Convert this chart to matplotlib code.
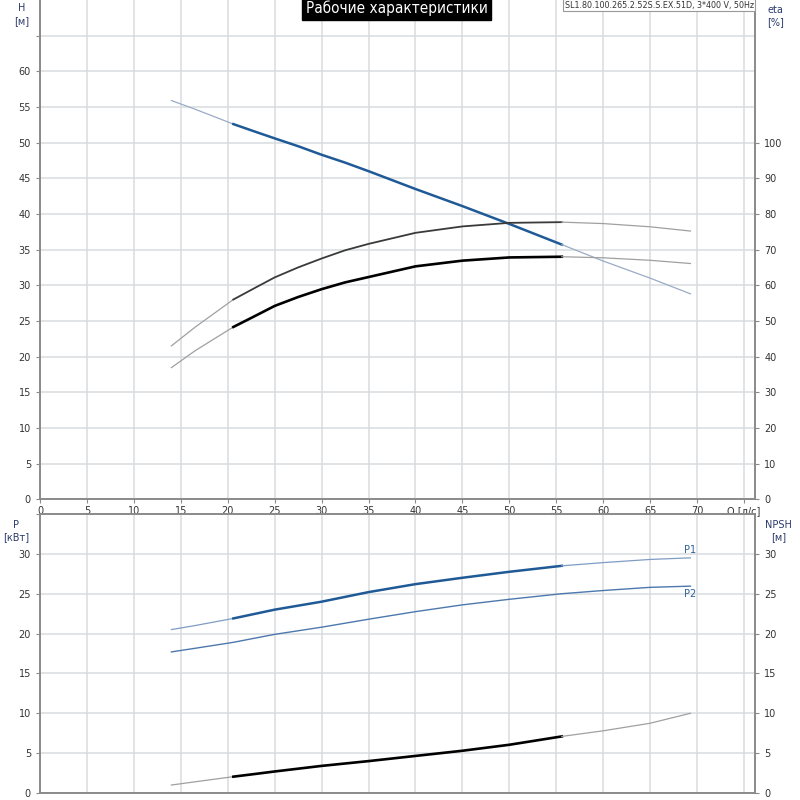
import numpy as np
import matplotlib
matplotlib.use("Agg")
import matplotlib.pyplot as plt

# flow points [l/s]
q = np.array([14, 16.5, 20.6, 23, 25, 27.5, 30, 32.5, 35, 40, 45, 50, 55.6, 60, 65, 69.3])
# head H [m]
head = np.array([55.9, 54.7, 52.6, 51.5, 50.6, 49.5, 48.3, 47.2, 46.0, 43.5, 41.1, 38.6,
                 35.7, 33.4, 31.0, 28.8])
# efficiencies [%]
eta_upper = np.array([43.0, 48.2, 56.0, 59.4, 62.2, 65.0, 67.5, 69.8, 71.6, 74.7, 76.5, 77.5,
                      77.7, 77.3, 76.4, 75.2])
eta_lower = np.array([36.9, 41.6, 48.3, 51.5, 54.2, 56.7, 58.9, 60.8, 62.3, 65.3, 66.9, 67.8,
                      68.0, 67.7, 67.0, 66.1])
# power [kW]
p1 = np.array([20.5, 21.0, 21.9, 22.5, 23.0, 23.5, 24.0, 24.6, 25.2, 26.2, 27.0, 27.75,
               28.5, 28.9, 29.3, 29.5])
p2 = np.array([17.7, 18.15, 18.9, 19.45, 19.9, 20.35, 20.8, 21.3, 21.8, 22.75, 23.6, 24.3,
               25.0, 25.4, 25.8, 25.95])
# NPSH [m]
npsh = np.array([1.0, 1.4, 2.05, 2.4, 2.7, 3.05, 3.4, 3.7, 4.0, 4.65, 5.3, 6.05,
                 7.1, 7.8, 8.75, 10.0])

x_ticks = list(range(0, 75, 5))
title = "Рабочие характеристики"
model = "SL1.80.100.265.2.52S.S.EX.51D, 3*400 V, 50Hz"

# index of operating range start/end (bold part)
i0, i1 = 2, 12

grid_c = "#d9dcdf"
spine_c = "#8a8a8a"
txt_c = "#333333"
lab_c = "#2b3a6b"
fs = 7


def seg(ax, y, thin_c, bold_c, bold_w, thin_w=0.9):
    ax.plot(q[:i0 + 1], y[:i0 + 1], color=thin_c, lw=thin_w)
    ax.plot(q[i0:i1 + 1], y[i0:i1 + 1], color=bold_c, lw=bold_w)
    ax.plot(q[i1:], y[i1:], color=thin_c, lw=thin_w)


def style(ax, ymax, ytop):
    ax.set_xlim(0, 76.2)
    ax.set_ylim(0, ymax)
    ax.set_xticks(list(range(0, 80, 5)))
    ax.set_yticks(list(range(0, ytop + 1, 5)))
    ax.grid(True, color=grid_c, lw=1.1)
    ax.set_axisbelow(True)
    for s in ax.spines.values():
        s.set_color(spine_c)
        s.set_linewidth(1.4)
    ax.tick_params(colors=spine_c, labelcolor=txt_c, labelsize=fs, length=3)


fig = plt.figure(figsize=(8, 8), dpi=100)

# ---- upper chart: H and eta
ax1 = fig.add_axes([0.05, 0.376, 0.894, 0.624])
style(ax1, 70, 65)
ax1.spines["top"].set_visible(False)
ax1.set_yticklabels([str(v) if v <= 60 else "" for v in range(0, 70, 5)])
ax1.set_xticklabels([str(v) for v in x_ticks] + ["Q [л/с]"])
ax1.tick_params(axis="x", pad=2)
seg(ax1, head, "#9aabc6", "#1f5a96", 1.8)

ax1r = ax1.twinx()
ax1r.set_ylim(0, 140)
ax1r.set_yticks(list(range(0, 110, 10)))
ax1r.tick_params(colors=spine_c, labelcolor=txt_c, labelsize=fs, length=3)
for s in ax1r.spines.values():
    s.set_visible(False)
seg(ax1r, eta_upper, "#a0a0a0", "#3a3a3a", 1.3)
seg(ax1r, eta_lower, "#a0a0a0", "#000000", 1.9)

ax1.text(0.4985, 0.9985, title, transform=ax1.transAxes, ha="center", va="top",
         fontsize=11, color="white", fontstretch="condensed",
         bbox=dict(boxstyle="square,pad=0.22", fc="black", ec="black"))
ax1.text(0.998, 0.9985, model, transform=ax1.transAxes, ha="right", va="top",
         fontsize=5.8, color=txt_c,
         bbox=dict(boxstyle="square,pad=0.2", fc="white", ec="#999999", lw=0.8))

fig.text(0.027, 0.996, "H\n[м]", ha="center", va="top", fontsize=fs,
         color=lab_c, linespacing=1.3)
fig.text(0.969, 0.994, "eta\n[%]", ha="center", va="top", fontsize=fs,
         color=lab_c, linespacing=1.3)

# ---- lower chart: P and NPSH
ax2 = fig.add_axes([0.05, 0.00875, 0.894, 0.34875])
style(ax2, 35, 35)
ax2.set_xticklabels([])
ax2.tick_params(axis="x", length=0)
ax2.set_yticklabels([str(v) if v <= 30 else "" for v in range(0, 40, 5)])
seg(ax2, p1, "#7f9cc4", "#1f5a96", 1.8)
ax2.plot(q, p2, color="#4d78ad", lw=1.0)
ax2.text(q[-1], p1[-1] + 0.35, "P1", ha="center", va="bottom", fontsize=fs,
         color="#2f5f9a")
ax2.text(q[-1], p2[-1] - 0.3, "P2", ha="center", va="top", fontsize=fs,
         color="#2f5f9a")

ax2r = ax2.twinx()
ax2r.set_ylim(0, 35)
ax2r.set_yticks(list(range(0, 35, 5)))
ax2r.tick_params(colors=spine_c, labelcolor=txt_c, labelsize=fs, length=3)
for s in ax2r.spines.values():
    s.set_visible(False)
seg(ax2r, npsh, "#a0a0a0", "#000000", 1.9)

fig.text(0.02, 0.35, "P\n[кВт]", ha="center", va="top", fontsize=fs,
         color=lab_c, linespacing=1.3)
fig.text(0.973, 0.35, "NPSH\n[м]", ha="center", va="top", fontsize=fs,
         color=lab_c, linespacing=1.3)

fig.savefig("out.png", dpi=100, facecolor="white")
